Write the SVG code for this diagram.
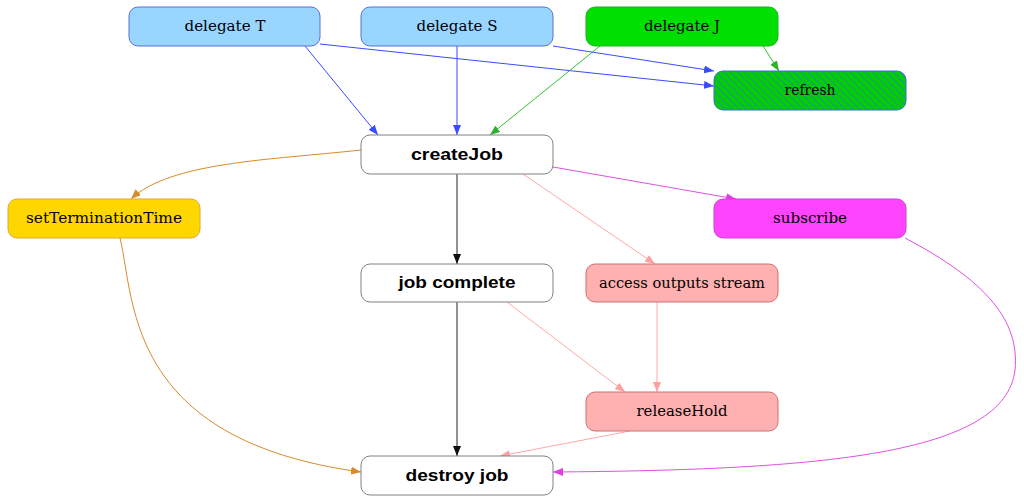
<svg xmlns="http://www.w3.org/2000/svg" width="1024" height="500" viewBox="0 0 1024 500">
<defs>
<style>
.n{stroke-width:1}
.t{font-family:"DejaVu Serif","Liberation Serif",serif;font-size:14px;fill:#000;text-anchor:middle;dominant-baseline:central}
.b{font-family:"Liberation Sans",Arial,sans-serif;font-size:17px;font-weight:bold;fill:#000;text-anchor:middle;dominant-baseline:central}
.e{fill:none;stroke-width:1}
.blue{stroke:#3a4cff}.green{stroke:#2fc02f}.orange{stroke:#d98a2a}.mag{stroke:#e050e0}.pink{stroke:#ffa8a8}.black{stroke:#222}
</style>
<pattern id="hatch" patternUnits="userSpaceOnUse" width="5" height="5" patternTransform="rotate(-45)">
<rect width="5" height="5" fill="#00d000"/>
<line x1="0" y1="0" x2="0" y2="5" stroke="#3a70d8" stroke-width="1.4"/>
</pattern>
<marker id="mb" viewBox="0 0 10 8" refX="10" refY="4" markerWidth="10" markerHeight="8" markerUnits="userSpaceOnUse" orient="auto"><path d="M0,0L10,4L0,8z" fill="#3a4cff"/></marker>
<marker id="mg" viewBox="0 0 10 8" refX="10" refY="4" markerWidth="10" markerHeight="8" markerUnits="userSpaceOnUse" orient="auto"><path d="M0,0L10,4L0,8z" fill="#2fb02f"/></marker>
<marker id="mo" viewBox="0 0 10 8" refX="10" refY="4" markerWidth="10" markerHeight="8" markerUnits="userSpaceOnUse" orient="auto"><path d="M0,0L10,4L0,8z" fill="#d98a2a"/></marker>
<marker id="mm" viewBox="0 0 10 8" refX="10" refY="4" markerWidth="10" markerHeight="8" markerUnits="userSpaceOnUse" orient="auto"><path d="M0,0L10,4L0,8z" fill="#e040e0"/></marker>
<marker id="mp" viewBox="0 0 10 8" refX="10" refY="4" markerWidth="10" markerHeight="8" markerUnits="userSpaceOnUse" orient="auto"><path d="M0,0L10,4L0,8z" fill="#ffa0a0"/></marker>
<marker id="mk" viewBox="0 0 10 8" refX="10" refY="4" markerWidth="10" markerHeight="8" markerUnits="userSpaceOnUse" orient="auto"><path d="M0,0L10,4L0,8z" fill="#111"/></marker>
</defs>
<rect width="1024" height="500" fill="#fff"/>
<g id="edges">
<path class="e blue" d="M305,46 L378,135" marker-end="url(#mb)"/>
<path class="e blue" d="M320,44 L714,86" marker-end="url(#mb)"/>
<path class="e blue" d="M457,46 L457,135" marker-end="url(#mb)"/>
<path class="e blue" d="M553,46 L714,71" marker-end="url(#mb)"/>
<path class="e green" d="M763,46 L779,71" marker-end="url(#mg)"/>
<path class="e green" d="M600,46 L490,135" marker-end="url(#mg)"/>
<path class="e orange" d="M361,150 C270,160 170,162 131,199" marker-end="url(#mo)"/>
<path class="e mag" d="M553,167 L736,199" marker-end="url(#mm)"/>
<path class="e pink" d="M523,174 L655,264" marker-end="url(#mp)"/>
<path class="e black" d="M457,174 L457,264" marker-end="url(#mk)"/>
<path class="e black" d="M457,302 L457,456" marker-end="url(#mk)"/>
<path class="e pink" d="M507,302 L625,392" marker-end="url(#mp)"/>
<path class="e pink" d="M657,302 L657,392" marker-end="url(#mp)"/>
<path class="e pink" d="M630,431 L500,456" marker-end="url(#mp)"/>
<path class="e orange" d="M120,238 C135,300 125,440 361,472" marker-end="url(#mo)"/>
<path class="e mag" d="M905,238 C985,280 1020,320 1015,370 C1005,455 820,470 553,472" marker-end="url(#mm)"/>
</g>
<g id="delegateT"><rect x="129" y="7" width="191" height="39" rx="9" fill="#99d6ff" stroke="#5a70d0"/><text class="t" x="225" y="26" textLength="81" lengthAdjust="spacingAndGlyphs">delegate T</text></g>
<g id="delegateS"><rect x="361" y="7" width="192" height="39" rx="9" fill="#99d6ff" stroke="#5a70d0"/><text class="t" x="457" y="26" textLength="81" lengthAdjust="spacingAndGlyphs">delegate S</text></g>
<g id="delegateJ"><rect x="586" y="7" width="192" height="39" rx="9" fill="#00e000" stroke="#22b022"/><text class="t" x="682" y="26" textLength="76" lengthAdjust="spacingAndGlyphs">delegate J</text></g>
<g id="refresh"><rect x="714" y="71" width="192" height="39" rx="9" fill="url(#hatch)" stroke="#3a6fd0"/><text class="t" x="810" y="90" textLength="51" lengthAdjust="spacingAndGlyphs">refresh</text></g>
<g id="createJob"><rect x="361" y="135" width="192" height="39" rx="9" fill="#fff" stroke="#808080"/><text class="b" x="457" y="154" textLength="92" lengthAdjust="spacingAndGlyphs">createJob</text></g>
<g id="setTerminationTime"><rect x="8" y="199" width="192" height="39" rx="9" fill="#ffd700" stroke="#e0a838"/><text class="t" x="104" y="218" textLength="156" lengthAdjust="spacingAndGlyphs">setTerminationTime</text></g>
<g id="subscribe"><rect x="714" y="199" width="192" height="39" rx="9" fill="#ff44ff" stroke="#d040d0"/><text class="t" x="810" y="218" textLength="74" lengthAdjust="spacingAndGlyphs">subscribe</text></g>
<g id="jobComplete"><rect x="361" y="264" width="192" height="38" rx="9" fill="#fff" stroke="#808080"/><text class="b" x="457" y="282" textLength="117" lengthAdjust="spacingAndGlyphs">job complete</text></g>
<g id="accessOutputsStream"><rect x="586" y="264" width="192" height="38" rx="9" fill="#ffb0b0" stroke="#d07070"/><text class="t" x="682" y="283" textLength="166" lengthAdjust="spacingAndGlyphs">access outputs stream</text></g>
<g id="releaseHold"><rect x="586" y="392" width="192" height="39" rx="9" fill="#ffb0b0" stroke="#d07070"/><text class="t" x="682" y="411" textLength="91" lengthAdjust="spacingAndGlyphs">releaseHold</text></g>
<g id="destroyJob"><rect x="361" y="456" width="192" height="39" rx="9" fill="#fff" stroke="#808080"/><text class="b" x="457" y="475" textLength="103" lengthAdjust="spacingAndGlyphs">destroy job</text></g>
</svg>
